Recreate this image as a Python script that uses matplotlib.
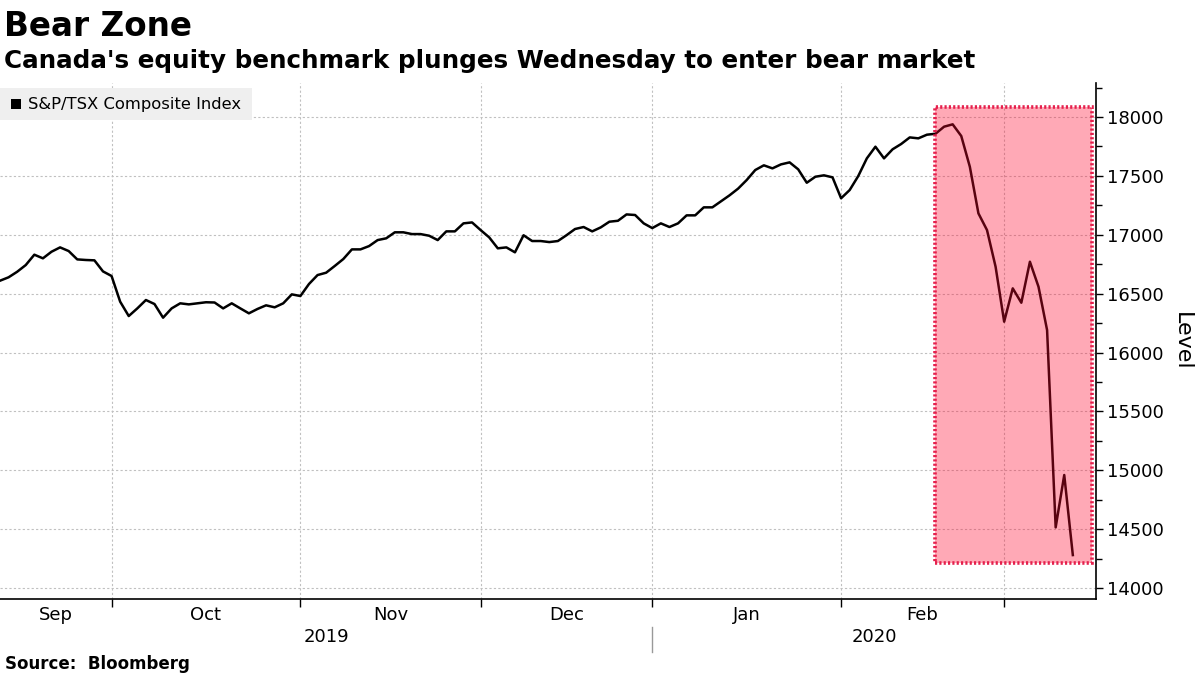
import matplotlib

matplotlib.use("Agg")
import matplotlib.pyplot as plt
import matplotlib.transforms as mtransforms
from matplotlib.patches import Rectangle
import numpy as np
import pandas as pd

# TSX trading days, Sep 11 2019 -> Mar 11 2020
holidays = ["2019-10-14", "2019-12-25", "2019-12-26", "2020-01-01", "2020-02-17"]
dates = pd.bdate_range("2019-09-11", "2020-03-11", freq="C", holidays=holidays)

tsx = [
    16610, 16639, 16686, 16743, 16831, 16800, 16856, 16893, 16862, 16791,
    16786, 16783, 16689, 16650, 16432, 16310, 16375, 16446, 16412, 16296,
    16375, 16418, 16409, 16418, 16427, 16425, 16375, 16418, 16375, 16333,
    16370, 16401, 16384, 16418, 16494, 16480, 16582, 16658, 16678, 16735,
    16794, 16876, 16876, 16904, 16955, 16970, 17021, 17021, 17006, 17006,
    16992, 16955, 17029, 17029, 17097, 17105, 17040, 16978, 16885, 16893,
    16851, 16996, 16947, 16947, 16938, 16947, 16996, 17049, 17066, 17029,
    17063, 17111, 17119, 17173, 17168, 17097, 17057, 17097, 17066, 17097,
    17165, 17165, 17233, 17233, 17284, 17335, 17392, 17465, 17550, 17590,
    17564, 17598, 17615, 17556, 17442, 17493, 17505, 17488, 17310, 17380,
    17499, 17649, 17748, 17649, 17726, 17771, 17827, 17819, 17850, 17858,
    17918, 17938, 17839, 17578, 17182, 17040, 16729, 16262, 16545, 16423,
    16771, 16559, 16191, 14515, 14960, 14280,
]
month_labels = ["Sep", "Oct", "Nov", "Dec", "Jan", "Feb"]
year_labels = ["2019", "2020"]
bear_start, bear_end = "2020-02-18", "2020-03-11"
bear_low, bear_high = 14215, 18083

n = min(len(dates), len(tsx))
dates = dates[:n]
vals = np.array(tsx[:n])
x = np.arange(n)

fig = plt.figure(figsize=(12, 6.75), dpi=100)
W, H = 1200, 675
ax = fig.add_axes([0, (H - 599) / H, 1096 / W, (599 - 83) / H])

ax.plot(x, vals, color="black", lw=1.8, zorder=3)

# bear zone box
i0 = dates.get_loc(pd.Timestamp(bear_start)) - 0.05
i1 = dates.get_loc(pd.Timestamp(bear_end)) + 2.2
ax.add_patch(Rectangle((i0, bear_low), i1 - i0, bear_high - bear_low,
                       facecolor="#ff0a30", alpha=0.35, edgecolor="none", zorder=4))
ax.add_patch(Rectangle((i0, bear_low), i1 - i0, bear_high - bear_low,
                       facecolor="none", edgecolor="#e5204d", lw=2.6,
                       linestyle=(0, (0.6, 0.6)), zorder=5))

ax.set_xlim(0, 127.7)
ax.set_ylim(13907, 18289)

# month boundaries = last trading day of each month
per = dates.to_period("M")
last_idx = [i for i in range(n - 1) if per[i] != per[i + 1]]
ax.set_xticks(last_idx)
ax.set_xticklabels([])
ax.tick_params(axis="x", which="major", length=6, width=1, color="black", direction="out")
bounds = [0] + last_idx
centers = [(bounds[k] + bounds[k + 1]) / 2 for k in range(len(month_labels))]
ax.set_xticks(centers, minor=True)
ax.set_xticklabels(month_labels, minor=True, fontsize=13)
ax.tick_params(axis="x", which="minor", length=0, pad=5)

ax.yaxis.tick_right()
ax.set_yticks(np.arange(14000, 18001, 500))
ax.set_yticks(np.arange(14000, 18251, 250), minor=True)
ax.tick_params(axis="y", which="major", length=5, width=1, labelsize=13, pad=3)
ax.tick_params(axis="y", which="minor", length=4, width=1)
ax.yaxis.set_label_position("right")
ax.set_ylabel("Level", fontsize=16, rotation=-90, labelpad=20)

ax.grid(True, which="major", color="#c0c0c0", linestyle=(0, (2, 2)), lw=0.8)
for s in ["top", "left"]:
    ax.spines[s].set_visible(False)
ax.spines["bottom"].set_linewidth(1.2)
ax.spines["right"].set_linewidth(1.2)

# year labels and separator
tr = mtransforms.blended_transform_factory(ax.transData, ax.transAxes)
yr_split = last_idx[3]
ax.text(yr_split / 2, -0.074, year_labels[0], transform=tr, ha="center", va="center", fontsize=13)
ax.text((yr_split + 127.7) / 2, -0.074, year_labels[1], transform=tr, ha="center", va="center", fontsize=13)
ax.plot([yr_split, yr_split], [-0.054, -0.103], transform=tr, color="#999999", lw=1, clip_on=False)

# legend box
fig.patches.append(Rectangle((0, 1 - 120 / H), 252 / W, 32 / H, transform=fig.transFigure,
                             facecolor="#efefef", edgecolor="none", zorder=1))
fig.patches.append(Rectangle((11 / W, 1 - 109 / H), 10 / W, 10 / H, transform=fig.transFigure,
                             facecolor="black", edgecolor="none", zorder=2))
fig.text(28 / W, 1 - 104 / H, "S&P/TSX Composite Index", fontsize=11.8, va="center", ha="left")

fig.text(4 / W, 1 - 36 / H, "Bear Zone", fontsize=23.5, fontweight="bold", va="baseline")
fig.text(4 / W, 1 - 68 / H, "Canada's equity benchmark plunges Wednesday to enter bear market",
         fontsize=17.7, fontweight="bold", va="baseline")
fig.text(5 / W, 1 - 669 / H, "Source:  Bloomberg", fontsize=12, fontweight="bold", va="baseline")

fig.savefig("out.png", dpi=100)
plt.close(fig)
